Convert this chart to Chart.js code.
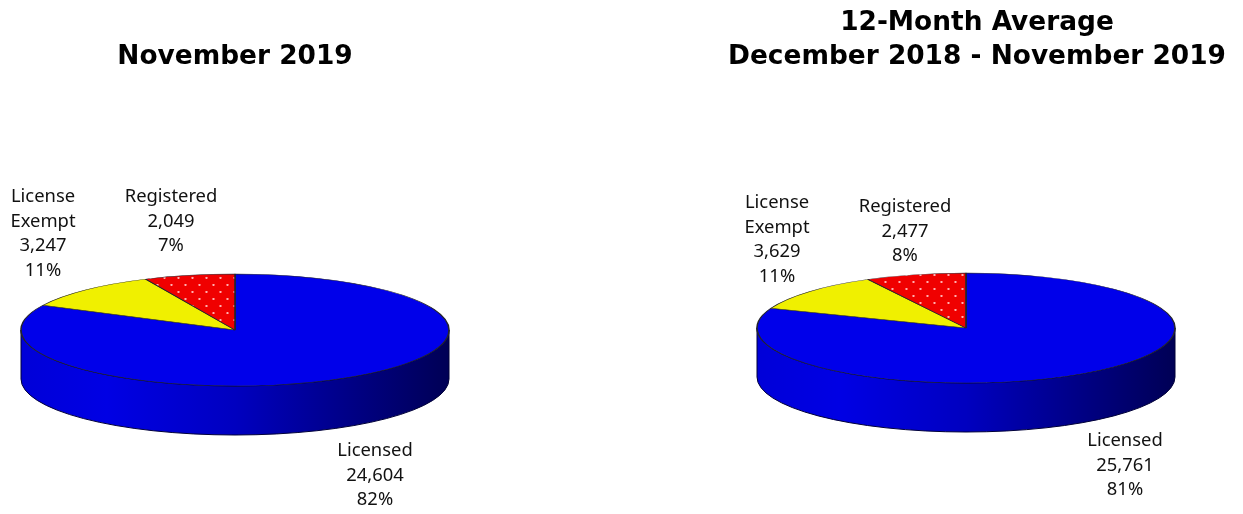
<!DOCTYPE html>
<html><head><meta charset="utf-8">
<script src="https://cdn.jsdelivr.net/npm/chart.js@4"></script>
<style>html,body{margin:0;padding:0;background:#fff;width:1243px;height:514px;overflow:hidden}
canvas{position:absolute;top:0}</style></head>
<body>
<canvas id="a" width="470" height="514" style="left:0"></canvas>
<canvas id="b" width="532" height="514" style="left:711px"></canvas>
<script>
const categories = ["Licensed", "License\nExempt", "Registered"];
const valuesNov = [24604, 3247, 2049];
const valuesAvg = [25761, 3629, 2477];
const titleNov = ["November 2019"];
const titleAvg = ["12-Month Average", "December 2018 - November 2019"];

const LABEL_FONT = '18.4px "Noto Sans"';
const LINE_H = 24.6;

function dottedRed(k){
  const h = Math.round(14 / k), t = document.createElement('canvas');
  t.width = 14; t.height = h;
  const c = t.getContext('2d');
  c.fillStyle = '#f00000'; c.fillRect(0,0,14,h);
  c.fillStyle = '#ffb0b0';
  [[3.5,h*0.25],[10.5,h*0.75]].forEach(p=>{
    c.beginPath(); c.ellipse(p[0],p[1],1.1,1.1/k,0,0,Math.PI*2); c.fill();
  });
  return document.createElement('canvas').getContext('2d').createPattern(t,'repeat');
}

const pie3d = {
  id:'pie3d',
  beforeDatasetsDraw(chart,_,o){
    const arc = chart.getDatasetMeta(0).data[0], c = chart.ctx;
    const cx = o.cx, rx = arc.outerRadius, cy = o.cy, ry = o.ry, d = o.depth;
    const g = c.createLinearGradient(cx-rx,0,cx+rx,0);
    g.addColorStop(0,'#0000d8'); g.addColorStop(0.2,'#0000e4');
    g.addColorStop(0.5,'#0000c0'); g.addColorStop(0.72,'#000090');
    g.addColorStop(1,'#000055');
    c.beginPath();
    c.moveTo(cx-rx,cy);
    c.lineTo(cx-rx,cy+d);
    c.ellipse(cx,cy+d,rx,ry,0,Math.PI,0,true);
    c.lineTo(cx+rx,cy);
    c.ellipse(cx,cy,rx,ry,0,0,Math.PI,false);
    c.closePath();
    c.fillStyle = g; c.fill();
    c.strokeStyle = '#000038'; c.lineWidth = 1; c.stroke();
    c.save();
    c.translate(cx,cy); c.scale(1,ry/rx); c.translate(-arc.x,-arc.y);
  },
  afterDatasetsDraw(chart,_,o){
    chart.ctx.restore();
    const c = chart.ctx, ds = chart.data.datasets[0].data;
    const total = ds.reduce((a,b)=>a+b,0);
    c.save();
    c.font = LABEL_FONT; c.fillStyle = '#111'; c.textAlign='center'; c.textBaseline='middle';
    ds.forEach((v,i)=>{
      const lines = [...chart.data.labels[i].split('\n'), v.toLocaleString('en-US'), Math.round(v/total*100)+'%'];
      lines.forEach((t,j)=>c.fillText(t,o.labelX[i],o.labelY[i]+j*LINE_H));
    });
    c.restore();
  }
};

function make(id,title,values,opt){
  const k = opt.ry/opt.rx;
  new Chart(document.getElementById(id),{
    type:'pie',
    data:{labels:categories,datasets:[{
      data:values,
      backgroundColor:['#0000ea','#f0f000',dottedRed(k)],
      borderColor:'#24242c',borderWidth:1.6,
      radius:opt.rx,clip:false,hoverOffset:0
    }]},
    plugins:[pie3d],
    options:{
      responsive:false,animation:false,
      plugins:{
        legend:{display:false},tooltip:{enabled:false},
        title:{display:true,text:title,color:'#000',
          font:{family:'"DejaVu Sans"',size:26.4,weight:'bold',lineHeight:1.29},
          padding:{top:opt.titleTop,bottom:0}},
        pie3d:{cx:opt.cx,cy:opt.cy,ry:opt.ry,depth:opt.depth,labelX:opt.labelX,labelY:opt.labelY}
      }
    }
  });
}
make('a',titleNov,valuesNov,{rx:214,cx:235,ry:56,cy:330,depth:49,titleTop:40,
  labelX:[375,43,171],labelY:[451,197,197]});
make('b',titleAvg,valuesAvg,{rx:209,cx:255,ry:55,cy:328,depth:49,titleTop:6,
  labelX:[414,66,194],labelY:[441,203,207]});
</script>
</body></html>
